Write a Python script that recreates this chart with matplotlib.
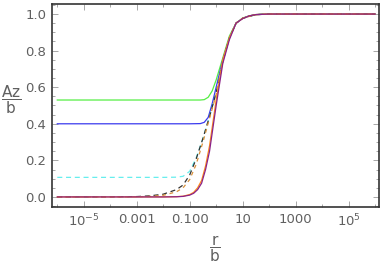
import numpy as np
import matplotlib.pyplot as plt
from matplotlib.ticker import FixedLocator, FixedFormatter

# log10(r/b) positions and Az/b values
green_lx = [-6, -1, -0.6, -0.45, -0.3, -0.15, 0, 0.25, 0.5, 0.75, 1, 1.25, 1.5, 2, 6]
green_y = [0.53, 0.53, 0.53, 0.532, 0.545, 0.58, 0.64, 0.76, 0.88, 0.95, 0.978, 0.99, 0.997, 1.0, 1.0]

blue_lx = [-6, -1, -0.6, -0.45, -0.3, -0.15, 0, 0.25, 0.5, 0.75, 1, 1.25, 1.5, 2, 6]
blue_y = [0.40, 0.40, 0.401, 0.408, 0.435, 0.51, 0.60, 0.75, 0.87, 0.95, 0.977, 0.99, 0.997, 1.0, 1.0]

cyan_lx = [-6, -2, -1.5, -1.25, -1, -0.75, -0.5, -0.25, 0, 0.25, 0.5, 0.75, 1, 1.5, 2, 6]
cyan_y = [0.107, 0.107, 0.108, 0.113, 0.14, 0.215, 0.32, 0.44, 0.57, 0.74, 0.87, 0.95, 0.977, 0.997, 1.0, 1.0]

black_lx = [-6, -4, -3, -2.5, -2, -1.5, -1.25, -1, -0.75, -0.5, -0.25, 0, 0.25, 0.5, 0.75, 1, 1.5, 2, 6]
black_y = [0.0, 0.0005, 0.002, 0.006, 0.015, 0.04, 0.065, 0.12, 0.21, 0.32, 0.44, 0.57, 0.74, 0.87, 0.95, 0.977, 0.997, 1.0, 1.0]

orange_d_lx = [-6, -3, -2.5, -2, -1.5, -1.25, -1, -0.75, -0.5, -0.25, 0, 0.25, 0.5, 0.75, 1, 1.5, 2, 6]
orange_d_y = [0.0, 0.001, 0.003, 0.009, 0.028, 0.05, 0.095, 0.18, 0.30, 0.43, 0.56, 0.74, 0.87, 0.95, 0.977, 0.997, 1.0, 1.0]

orange_lx = [-6, -2, -1.5, -1.25, -1, -0.85, -0.7, -0.55, -0.4, -0.25, -0.1, 0, 0.25, 0.5, 0.75, 1, 1.25, 1.5, 2, 6]
orange_y = [0.0, 0.0002, 0.0015, 0.004, 0.013, 0.025, 0.05, 0.09, 0.17, 0.28, 0.43, 0.53, 0.75, 0.87, 0.95, 0.976, 0.99, 0.997, 1.0, 1.0]

purple_lx = [-6, -2, -1.5, -1.25, -1, -0.85, -0.7, -0.55, -0.4, -0.25, -0.1, 0, 0.25, 0.5, 0.75, 1, 1.25, 1.5, 2, 6]
purple_y = [0.0, 0.0001, 0.001, 0.003, 0.01, 0.02, 0.04, 0.075, 0.15, 0.25, 0.40, 0.50, 0.73, 0.86, 0.95, 0.975, 0.99, 0.997, 1.0, 1.0]

xticks = [1e-5, 1e-3, 1e-1, 10, 1000, 1e5]
xticklabels = ["10$^{-5}$", "0.001", "0.100", "10", "1000", "10$^{5}$"]
yticks = [0.0, 0.2, 0.4, 0.6, 0.8, 1.0]
yticklabels = ["0.0", "0.2", "0.4", "0.6", "0.8", "1.0"]

fig = plt.figure(figsize=(3.82, 2.72), dpi=100)
ax = fig.add_axes([52 / 382, 65 / 272, 327 / 382, 203 / 272])

def draw(lx, y, **kw):
    ax.plot(10.0 ** np.array(lx), y, lw=0.9, **kw)

draw(green_lx, green_y, color="#55ee44")
draw(blue_lx, blue_y, color="#3a3aee")
draw(cyan_lx, cyan_y, color="#66eeee", dashes=(4, 3))
draw(black_lx, black_y, color="#333333", dashes=(4, 3))
draw(orange_d_lx, orange_d_y, color="#d9903a", dashes=(3, 3))
draw(orange_lx, orange_y, color="#ff8c1a")
draw(purple_lx, purple_y, color="#8a2288")

ax.set_xscale("log")
ax.set_xlim(10 ** -6.2, 10 ** 6.15)
ax.set_ylim(-0.055, 1.055)

ax.xaxis.set_major_locator(FixedLocator(xticks))
ax.xaxis.set_major_formatter(FixedFormatter(xticklabels))
ax.xaxis.set_minor_locator(FixedLocator([10.0 ** k for k in range(-6, 7)]))
ax.xaxis.set_minor_formatter(FixedFormatter([]))
ax.set_yticks(yticks)
ax.set_yticklabels(yticklabels)
ax.yaxis.set_minor_locator(FixedLocator(np.arange(-0.05, 1.06, 0.05)))

ax.tick_params(which="both", direction="in", top=True, right=True, color="#999999",
               labelcolor="#606060", labelsize=9.5, width=0.6)
ax.tick_params(which="major", length=4, pad=4)
ax.tick_params(which="minor", length=2)
for s in ax.spines.values():
    s.set_color("#333333")
    s.set_linewidth(1.2)

fig.text(0.03, 0.632, r"$\dfrac{\mathsf{Az}}{\mathsf{b}}$", color="#606060", fontsize=11,
         ha="center", va="center")
fig.text(0.562, 0.085, r"$\dfrac{\mathsf{r}}{\mathsf{b}}$", color="#606060", fontsize=11,
         ha="center", va="center")

fig.savefig("out.png", dpi=100)
